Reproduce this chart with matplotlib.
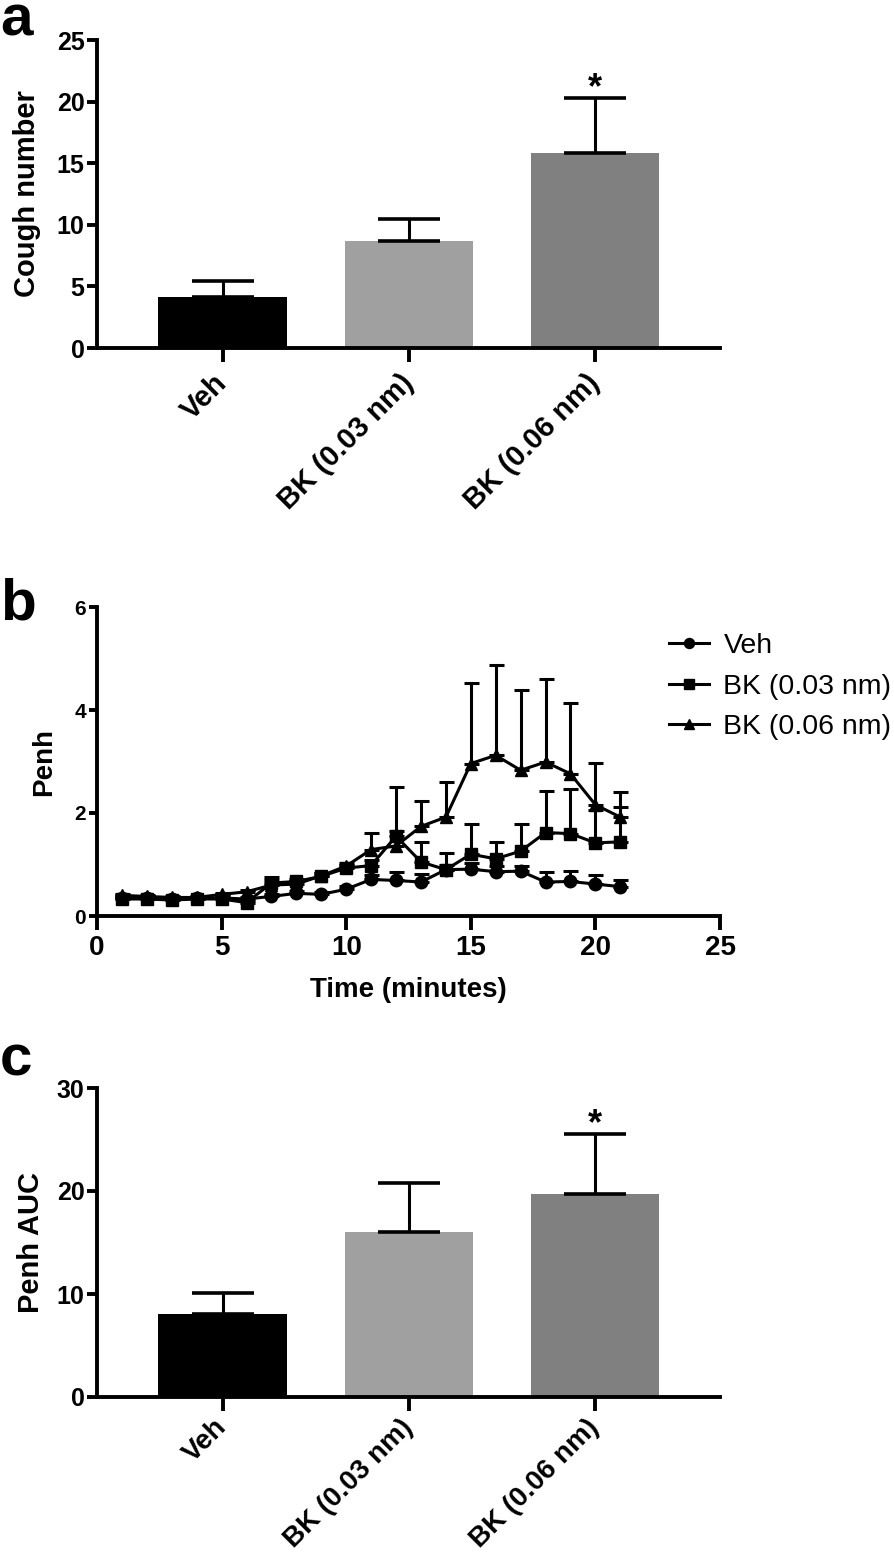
import matplotlib
matplotlib.use("Agg")
import matplotlib.pyplot as plt

plt.rcParams['font.family'] = ['Liberation Sans', 'DejaVu Sans']

groups = ["Veh", "BK (0.03 nm)", "BK (0.06 nm)"]
bar_colors = ["#000000", "#a0a0a0", "#808080"]

cough = [4.1, 8.7, 15.8]
cough_err = [1.35, 1.75, 4.5]

auc = [8.1, 16.05, 19.7]
auc_err = [1.95, 4.75, 5.85]

time = list(range(1, 22))
veh = [0.35, 0.35, 0.33, 0.34, 0.35, 0.33, 0.38, 0.44, 0.42, 0.52, 0.71,
       0.69, 0.66, 0.90, 0.91, 0.86, 0.87, 0.66, 0.67, 0.62, 0.57]
veh_err = [0.03, 0.03, 0.03, 0.03, 0.03, 0.03, 0.05, 0.05, 0.05, 0.06, 0.08,
           0.16, 0.15, 0.10, 0.12, 0.12, 0.10, 0.19, 0.21, 0.17, 0.12]
bk03 = [0.33, 0.33, 0.31, 0.33, 0.33, 0.26, 0.64, 0.67, 0.77, 0.93, 0.98,
        1.55, 1.05, 0.90, 1.20, 1.11, 1.26, 1.62, 1.60, 1.42, 1.44]
bk03_err = [0.03, 0.03, 0.03, 0.03, 0.03, 0.03, 0.12, 0.05, 0.06, 0.06, 0.10,
            0.95, 0.38, 0.33, 0.58, 0.33, 0.52, 0.80, 0.87, 0.63, 0.67]
bk06 = [0.40, 0.38, 0.36, 0.36, 0.42, 0.47, 0.60, 0.62, 0.78, 0.97, 1.29,
        1.36, 1.74, 1.92, 2.96, 3.12, 2.83, 2.99, 2.76, 2.16, 1.92]
bk06_err = [0.03, 0.03, 0.03, 0.03, 0.03, 0.03, 0.10, 0.05, 0.05, 0.05, 0.33,
            0.30, 0.49, 0.69, 1.57, 1.76, 1.55, 1.61, 1.38, 0.81, 0.48]

W, H = 894, 1560
fig = plt.figure(figsize=(W / 100, H / 100), dpi=100)


def px_axes(left, top, right, bottom):
    return fig.add_axes([left / W, 1 - bottom / H, (right - left) / W, (bottom - top) / H])


def style(ax, xsize, ysize, xtick_len=10, ytick_len=7):
    for s in ["top", "right"]:
        ax.spines[s].set_visible(False)
    for s in ["left", "bottom"]:
        ax.spines[s].set_linewidth(2.8)
    ax.tick_params(axis="x", length=xtick_len, width=2.8, labelsize=xsize)
    ax.tick_params(axis="y", length=ytick_len, width=2.8, labelsize=ysize, pad=2)
    for lab in ax.get_xticklabels() + ax.get_yticklabels():
        lab.set_fontweight("bold")


def bar_panel(ax, vals, errs, ymax, step, ylabel, xsize=21, xpad=12):
    x = range(len(groups))
    ax.bar(x, vals, width=0.69, color=bar_colors, zorder=2)
    ax.errorbar(x, vals, yerr=[[0] * len(vals), errs], fmt="none", ecolor="black",
                elinewidth=2.2, capsize=22, capthick=2.6, zorder=3)
    ax.set_ylim(0, ymax)
    ax.set_yticks(range(0, ymax + 1, step))
    ax.set_xticks(list(x))
    ax.set_xticklabels(groups, rotation=45, ha="right", va="center", rotation_mode="anchor")
    ax.set_xlim(-0.675, 2.67)
    ax.set_ylabel(ylabel, fontsize=21, fontweight="bold")
    style(ax, xsize, 18, xtick_len=10, ytick_len=7)
    ax.tick_params(axis="x", pad=xpad)
    top = vals[2] + errs[2]
    ax.text(2, top, "*", ha="center", va="baseline", fontsize=26, fontweight="bold")


# panel a
ax1 = px_axes(97, 40, 720, 348)
bar_panel(ax1, cough, cough_err, 25, 5, "Cough number")
ax1.yaxis.set_label_coords(-0.09, 0.5)

# panel b
ax2 = px_axes(97, 607, 720, 916)
series = [(veh, veh_err, "o", "Veh"), (bk03, bk03_err, "s", "BK (0.03 nm)"),
          (bk06, bk06_err, "^", "BK (0.06 nm)")]
for vals, errs, mk, name in series:
    ax2.errorbar(time, vals, yerr=[[0] * len(vals), errs], color="black", marker=mk,
                 markersize=9, linewidth=2.2, elinewidth=2.2, capsize=5.4, capthick=2.2,
                 label=name, clip_on=False)
ax2.set_xlim(0, 25)
ax2.set_ylim(0, 6)
ax2.set_xticks(range(0, 26, 5))
ax2.set_yticks(range(0, 7, 2))
ax2.set_xlabel("Time (minutes)", fontsize=20, fontweight="bold", labelpad=12)
ax2.set_ylabel("Penh", fontsize=20, fontweight="bold")
ax2.yaxis.set_label_coords(-0.064, 0.5)
style(ax2, 20, 15, xtick_len=10, ytick_len=6)
handles, labels = ax2.get_legend_handles_labels()
handles = [h[0] for h in handles]
fig.legend(handles, labels, loc="upper left", bbox_to_anchor=(658 / W, 1 - 622 / H),
           frameon=False, fontsize=20.5, handlelength=1.4, handletextpad=0.5,
           labelspacing=0.5, borderaxespad=0, markerscale=0.8)

# panel c
ax3 = px_axes(97, 1088, 720, 1397)
bar_panel(ax3, auc, auc_err, 30, 10, "Penh AUC", xsize=20, xpad=9)
ax3.yaxis.set_label_coords(-0.084, 0.5)

for lab, y in [("a", 35), ("b", 620), ("c", 1076)]:
    fig.text(0 / W, 1 - y / H, lab, fontsize=42, fontweight="bold", va="baseline", ha="left")

fig.savefig("out.png", dpi=100)
